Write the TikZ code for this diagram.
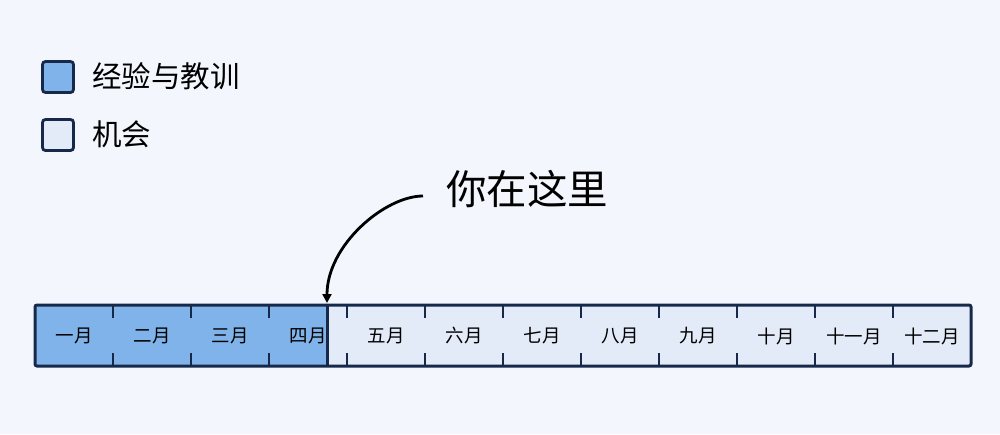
\documentclass[tikz,border=0pt]{standalone}
\usepackage{fontspec}
\newfontfamily\cjk{Noto Sans CJK SC}
\usetikzlibrary{arrows.meta}
\definecolor{bg}{HTML}{F3F7FD}
\definecolor{pastc}{HTML}{80B3EA}
\definecolor{futc}{HTML}{E4EBF8}
\definecolor{edgec}{HTML}{16294A}
\begin{document}
\begin{tikzpicture}[x=1pt,y=-1pt,
  legbox/.style={draw=edgec,line width=2.8pt,rounded corners=3pt,minimum size=31pt,inner sep=0pt},
  legtext/.style={anchor=west,font=\cjk\fontsize{29.5}{31}\selectfont,text=black,inner sep=0pt},
  monthlbl/.style={font=\cjk\fontsize{18.5}{20}\selectfont,text=black,inner sep=0pt},
  barline/.style={draw=edgec,line width=3pt},
  tick/.style={draw=edgec,line width=2.8pt},
  pointer/.style={draw=black,line width=2.8pt,-{Triangle[length=9pt,width=9pt]}}]
\fill[bg] (0,0) rectangle (1000,434);
\useasboundingbox (0,0) rectangle (1000,434);
% legend
\node[legbox,fill=pastc] (k1) at (58,77) {};
\node[legtext] (t1) at (92,76) {经验与教训};
\node[legbox,fill=futc] (k2) at (58,135) {};
\node[legtext] (t2) at (92,134) {机会};
% bar
\coordinate (bl) at (35,305);
\coordinate (br) at (971,366);
\coordinate (nowtop) at (327,305);
\coordinate (nowbot) at (327,366);
\fill[pastc] (bl) rectangle (nowbot);
\fill[futc] (nowtop) rectangle (br);
\foreach \i in {1,...,11}{
  \draw[tick] (35+78*\i,305) -- (35+78*\i,318);
  \draw[tick] (35+78*\i,353) -- (35+78*\i,366);
}
\draw[barline] (nowtop) -- (nowbot);
\draw[barline,rounded corners=2pt] (bl) rectangle (br);
\foreach \t [count=\i] in {一月,二月,三月,四月,五月,六月,七月,八月,九月,十月,十一月,十二月}{
  \node[monthlbl] (m\i) at (35+78*\i-39,336) {\t};
}
% pointer
\node[font=\cjk\fontsize{40.5}{43}\selectfont,inner sep=0pt,anchor=west] (here) at (446,189) {你在这里};
\coordinate (hs) at (423,196);
\coordinate (he) at (327,303);
\draw[pointer] (hs) .. controls (385,196) and (327,245) .. (he);
\end{tikzpicture}
\end{document}
